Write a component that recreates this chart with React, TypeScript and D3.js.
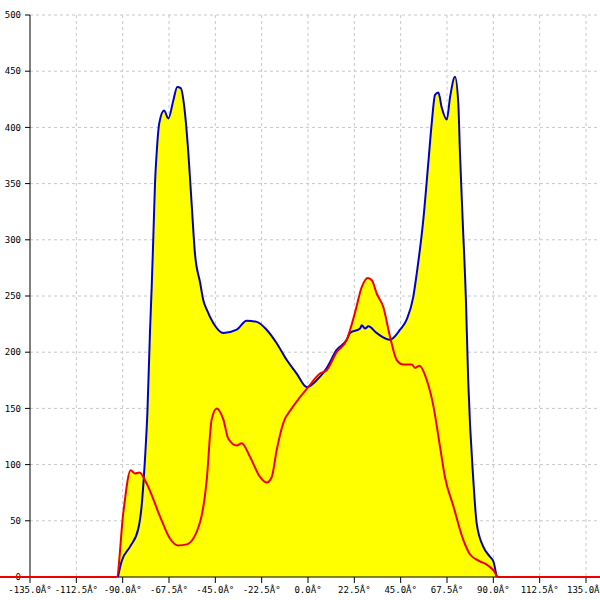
import * as d3 from "d3";
import React from "react";

// angle (deg) / value pairs
const blueAngles = [-92.3, -90.5, -86.4, -82.4, -80.8, -79.2, -78.0, -76.7, -75.9, -75.1, -74.3, -73.5, -72.2, -69.9, -67.8, -65.4, -63.5, -61.8, -59.7, -58.1, -56.5, -54.9, -52.4, -50.8, -49.2, -46.0, -41.1, -34.6, -29.8, -24.9, -20.1, -15.2, -10.3, -5.5, -0.6, 4.2, 9.1, 13.9, 18.8, 20.4, 25.3, 26.1, 27.7, 29.3, 33.4, 39.8, 44.7, 47.9, 51.1, 52.8, 56.0, 58.4, 60.1, 61.7, 63.3, 64.9, 67.4, 69.0, 71.4, 73.0, 73.8, 75.1, 76.7, 77.8, 80.3, 81.9, 85.1, 88.4, 90.0, 91.6];
const blueValues = [0, 14, 27, 43, 63, 104, 146, 220, 258, 303, 350, 377, 404, 415, 408, 424, 436, 435, 412, 377, 332, 288, 262, 246, 238, 226, 217, 220, 228, 227, 220, 208, 193, 181, 169, 175, 186, 202, 211, 217, 221, 224, 221, 223, 217, 211, 220, 229, 249, 270, 318, 368, 404, 429, 431, 418, 407, 427, 445, 421, 377, 318, 246, 175, 86, 48, 27, 18, 14, 0];

const redAngles = [-150, -92.9, -89.7, -86.1, -84.0, -81.9, -78.3, -71.9, -67.0, -63.0, -58.9, -52.4, -49.2, -46.8, -44.3, -41.1, -38.7, -34.6, -32.2, -28.2, -23.3, -20.1, -17.6, -15.2, -12.0, -7.9, -3.9, 0.1, 5.8, 9.1, 13.9, 18.8, 22.8, 26.1, 29.1, 31.0, 33.4, 36.6, 39.8, 43.1, 46.3, 50.4, 52.0, 54.1, 57.7, 60.9, 64.1, 66.5, 70.6, 75.4, 78.7, 83.5, 86.8, 90.0, 92.4, 150];
const redValues = [0, 0, 57, 95, 92, 93, 83, 54, 34, 28, 29, 49, 86, 140, 150, 140, 123, 117, 119, 107, 89, 84, 89, 113, 137, 150, 160, 169, 181, 184, 200, 211, 235, 258, 266, 264, 252, 240, 214, 193, 189, 189, 186, 188, 175, 152, 116, 89, 63, 33, 20, 14, 11, 6, 0, 0];

const xTicks = [-135, -112.5, -90, -67.5, -45, -22.5, 0, 22.5, 45, 67.5, 90, 112.5, 135];
const yTicks = [0, 50, 100, 150, 200, 250, 300, 350, 400, 450, 500];

const W = 600;
const H = 600;
const font = "'DejaVu Sans Mono', monospace";

export default function App() {
  const x = d3.scaleLinear().domain([-135, 135]).range([30, 586]);
  const y = d3.scaleLinear().domain([0, 500]).range([577, 15]);

  const blue = blueAngles.map((a, i) => [a, blueValues[i]] as [number, number]);
  const red = redAngles.map((a, i) => [a, redValues[i]] as [number, number]);

  const area = d3.area<[number, number]>().x(d => x(d[0])).y0(y(0)).y1(d => y(d[1])).curve(d3.curveMonotoneX);
  const line = d3.line<[number, number]>().x(d => x(d[0])).y(d => y(d[1])).curve(d3.curveMonotoneX);

  return (
    <svg width={W} height={H} style={{ position: "absolute", left: 0, top: 0, background: "white" }}>
      {/* grid */}
      {xTicks.slice(1).map(t => (
        <line key={"gx" + t} x1={x(t)} x2={x(t)} y1={y(500)} y2={y(0)} stroke="#c8c8c8" strokeDasharray="3,3" />
      ))}
      {yTicks.slice(1).map(t => (
        <line key={"gy" + t} x1={x(-135)} x2={W} y1={y(t)} y2={y(t)} stroke="#c8c8c8" strokeDasharray="3,3" />
      ))}

      <path d={area(blue)!} fill="#ffff00" />
      <path d={area(red.filter(d => d[0] > -95 && d[0] < 95))!} fill="#ffff00" />

      {/* axes */}
      <line x1={x(-135)} x2={x(-135)} y1={y(500)} y2={y(0)} stroke="black" />
      <line x1={x(-135)} x2={W} y1={y(0)} y2={y(0)} stroke="black" />
      {yTicks.map(t => (
        <g key={"ty" + t}>
          <line x1={x(-135) - 5} x2={x(-135)} y1={y(t)} y2={y(t)} stroke="black" />
          <text x={21} y={y(t)} dy="0.35em" textAnchor="end" fontFamily={font} fontSize={9}>{t}</text>
        </g>
      ))}
      {xTicks.map(t => (
        <g key={"tx" + t}>
          <line x1={x(t)} x2={x(t)} y1={y(0)} y2={y(0) + 6} stroke="black" />
          <text x={x(t)} y={593} textAnchor="middle" fontFamily={font} fontSize={9}>{t.toFixed(1) + "Â°"}</text>
        </g>
      ))}

      <path d={line(blue)!} fill="none" stroke="#0000cc" strokeWidth={2} />
      <path d={line(red)!} fill="none" stroke="#ee0000" strokeWidth={2} />
    </svg>
  );
}
